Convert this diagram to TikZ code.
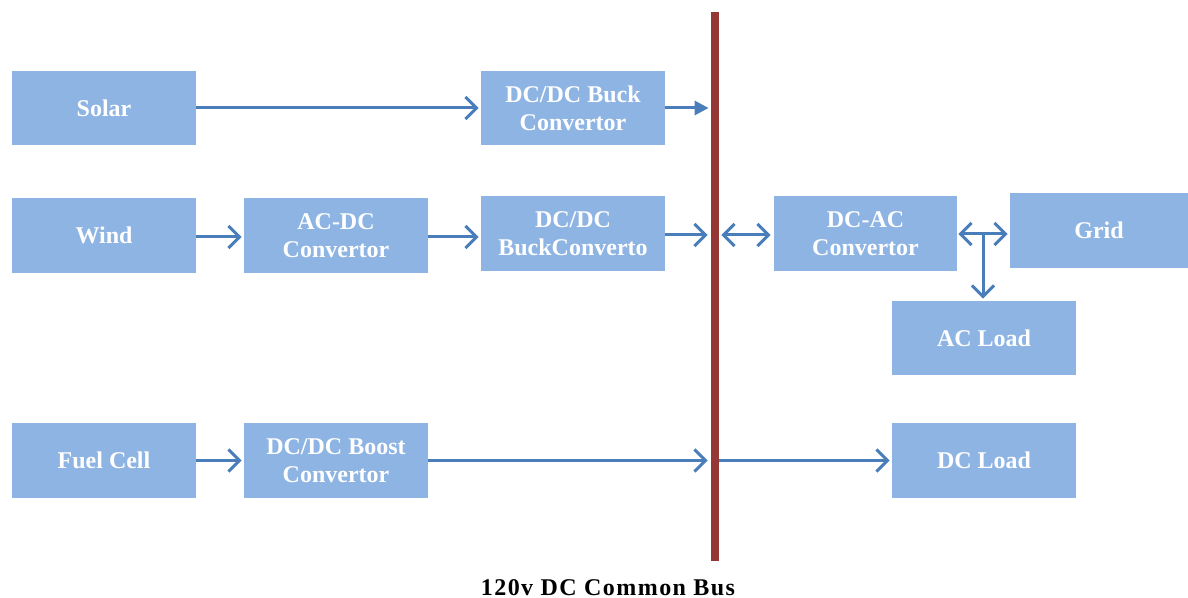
\documentclass[tikz,border=0pt]{standalone}
\usepackage{fontspec}
\setmainfont{Liberation Serif}
\usetikzlibrary{arrows.meta}
\definecolor{boxblue}{HTML}{8EB4E3}
\definecolor{arrblue}{HTML}{4A7EBB}
\definecolor{busred}{HTML}{953735}
\tikzset{
  blk/.style={fill=boxblue, draw=none, minimum width=92pt, minimum height=37pt, inner sep=0pt,
    text=white, font=\fontsize{12pt}{14pt}\selectfont\bfseries, align=center},
  barb/.tip={Straight Barb[length=5.5pt,width=11pt,line width=1.5pt]},
  conn/.style={draw=arrblue, line width=1.5pt, -barb},
  dconn/.style={draw=arrblue, line width=1.5pt, barb-barb},
  tconn/.style={draw=arrblue, line width=1.5pt, -{Triangle[length=7pt,width=7pt]}},
}
\begin{document}
\begin{tikzpicture}[x=0.5pt,y=-0.5pt]
\useasboundingbox (0,0) rectangle (1188,598);
% bus
\node (bus) [fill=busred, minimum width=4pt, minimum height=274.5pt, inner sep=0pt] at (715,286.5) {};
\node (buslabel) [inner sep=0pt, anchor=base] at (608,595) {\fontsize{12pt}{14pt}\selectfont\bfseries\addfontfeature{LetterSpace=6}120v DC Common Bus};
% boxes
\node (solar) [blk] at (104,108) {Solar};
\node (buck1) [blk] at (573,108) {DC/DC Buck\\Convertor};
\node (wind) [blk, minimum height=37.5pt] at (104,235.5) {Wind};
\node (acdc) [blk, minimum height=37.5pt] at (336,235.5) {AC-DC\\Convertor};
\node (buck2) [blk, minimum height=37.5pt] at (573,233.5) {DC/DC\\BuckConverto};
\node (dcac) [blk, minimum width=91.5pt, minimum height=37.5pt] at (865.5,233.5) {DC-AC\\Convertor};
\node (grid) [blk, minimum width=89pt, minimum height=37.5pt] at (1099,230.5) {Grid};
\node (acload) [blk] at (984,338) {AC Load};
\node (fuel) [blk, minimum height=37.5pt] at (104,460.5) {Fuel Cell};
\node (boost) [blk, minimum height=37.5pt] at (336,460.5) {DC/DC Boost\\Convertor};
\node (dcload) [blk, minimum height=37.5pt] at (984,460.5) {DC Load};
% connectors
\draw[conn, shorten >=1pt] (solar.east) -- (buck1.west);
\draw[tconn, shorten >=1pt] (buck1.east) -- (buck1.east -| bus.west);
\draw[conn, shorten >=1pt] ([yshift=-0.75pt]wind.east) -- ([yshift=-0.75pt]wind.east -| acdc.west);
\draw[conn, shorten >=1pt] ([yshift=-0.75pt]acdc.east) -- ([yshift=-0.75pt]acdc.east -| buck2.west);
\draw[conn, shorten >=1.5pt] ([yshift=-0.75pt]buck2.east) -- ([yshift=-0.75pt]buck2.east -| bus.west);
\draw[dconn, shorten <=1pt, shorten >=1.5pt] ([yshift=-0.75pt]bus.east |- dcac.west) -- ([yshift=-0.75pt]dcac.west);
\draw[dconn, shorten <=0.5pt, shorten >=1pt] ([yshift=-0.25pt]dcac.east) -- ([yshift=-0.25pt]dcac.east -| grid.west);
\coordinate (junc) at (983,234);
\draw[conn, shorten >=1pt] (junc) -- (junc |- acload.north);
\draw[conn, shorten >=1pt] (fuel.east) -- (boost.west);
\draw[conn, shorten >=1.5pt] (boost.east) -- (boost.east -| bus.west);
\draw[conn, shorten >=1pt] (bus.east |- dcload.west) -- (dcload.west);
\end{tikzpicture}
\end{document}
